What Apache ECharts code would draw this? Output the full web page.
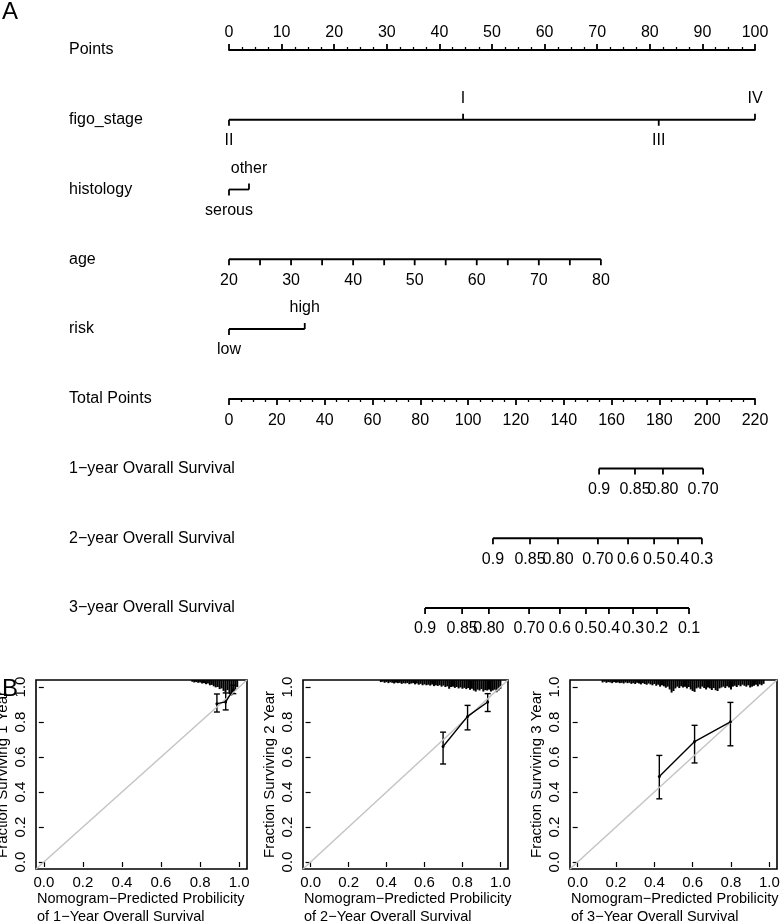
<!DOCTYPE html>
<html>
<head>
<meta charset="utf-8">
<script src="https://cdn.jsdelivr.net/npm/echarts@6/dist/echarts.min.js"></script>
<style>
html, body { margin: 0; padding: 0; background: #fff; }
#chart { width: 780px; height: 923px; }
</style>
</head>
<body>
<div id="chart"></div>
<script>
var FONT = '"Liberation Sans", Arial, Helvetica, sans-serif';

// ---- nomogram (A) ----
var rowNames = ['Points', 'figo_stage', 'histology', 'age', 'risk', 'Total Points',
  '1\u2212year Ovarall Survival', '2\u2212year Overall Survival', '3\u2212year Overall Survival'];

var figoLabels = ['II', 'I', 'III', 'IV'];
var figoPoints = [0, 44.5, 81.7, 100];
var figoSide = ['below', 'above', 'below', 'above'];

var histLabels = ['serous', 'other'];
var histPoints = [0, 3.8];
var histSide = ['below', 'above'];

var ageLabels = ['20', '', '30', '', '40', '', '50', '', '60', '', '70', '', '80'];
var agePoints = [0, 5.9, 11.8, 17.7, 23.6, 29.5, 35.3, 41.2, 47.1, 53.0, 58.9, 64.8, 70.7];

var riskLabels = ['low', 'high'];
var riskPoints = [0, 14.4];
var riskSide = ['below', 'above'];

// survival scales, positions in total points
var surv1Labels = ['0.9', '0.85', '0.80', '0.70'];
var surv1Total = [154.8, 169.8, 181.5, 198.3];
var surv2Labels = ['0.9', '0.85', '0.80', '0.70', '0.6', '0.5', '0.4', '0.3'];
var surv2Total = [110.4, 125.9, 137.6, 154.3, 166.9, 177.8, 187.8, 197.8];
var surv3Labels = ['0.9', '0.85', '0.80', '0.70', '0.6', '0.5', '0.4', '0.3', '0.2', '0.1'];
var surv3Total = [82.0, 97.5, 108.7, 125.5, 138.4, 149.3, 158.9, 169.0, 179.0, 192.4];

var maxPoints = 100, maxTotal = 220;

// ---- calibration (B) ----
var calTicks = [0, 0.2, 0.4, 0.6, 0.8, 1.0];
var cal1X = [0.886, 0.931, 0.970];
var cal1Y = [0.905, 0.915, 0.985];
var cal1Lo = [0.857, 0.869, 0.962];
var cal1Hi = [0.960, 0.966, 1.010];

var cal2X = [0.698, 0.827, 0.933];
var cal2Y = [0.660, 0.832, 0.914];
var cal2Lo = [0.560, 0.755, 0.860];
var cal2Hi = [0.742, 0.895, 0.962];

var cal3X = [0.426, 0.610, 0.797];
var cal3Y = [0.488, 0.688, 0.801];
var cal3Lo = [0.361, 0.566, 0.664];
var cal3Hi = [0.609, 0.781, 0.912];

// rug of predicted values (bin start, bin width 0.01, mark length)
var rugStep = 0.01;
var rug1Start = 0.76;
var rug1Len = [0.010, 0.014, 0.012, 0.016, 0.014, 0.020, 0.018, 0.024, 0.020, 0.030, 0.028, 0.036,
  0.042, 0.040, 0.052, 0.048, 0.062, 0.072, 0.058, 0.080, 0.088, 0.075, 0.060, 0.040];
var rug2Start = 0.37;
var rug2Len = [0.012, 0.010, 0.016, 0.012, 0.018, 0.013, 0.016, 0.020, 0.015, 0.018, 0.016, 0.022,
  0.018, 0.020, 0.017, 0.024, 0.020, 0.018, 0.025, 0.020, 0.027, 0.022, 0.030, 0.025, 0.030, 0.027,
  0.032, 0.026, 0.035, 0.030, 0.034, 0.030, 0.038, 0.032, 0.040, 0.036, 0.050, 0.040, 0.038, 0.045,
  0.040, 0.048, 0.042, 0.050, 0.045, 0.052, 0.046, 0.056, 0.050, 0.060, 0.066, 0.055, 0.060, 0.052,
  0.066, 0.058, 0.060, 0.055, 0.066, 0.060, 0.055, 0.070, 0.060, 0.050];
var rug3Start = 0.13;
var rug3Len = [0.014, 0.010, 0.016, 0.012, 0.014, 0.018, 0.012, 0.016, 0.014, 0.018, 0.016, 0.020,
  0.014, 0.018, 0.016, 0.022, 0.018, 0.023, 0.016, 0.020, 0.025, 0.018, 0.023, 0.027, 0.020, 0.025,
  0.030, 0.023, 0.033, 0.027, 0.038, 0.030, 0.036, 0.044, 0.038, 0.054, 0.072, 0.063, 0.048, 0.038,
  0.046, 0.036, 0.043, 0.038, 0.048, 0.040, 0.054, 0.063, 0.068, 0.048, 0.043, 0.050, 0.038, 0.046,
  0.054, 0.043, 0.048, 0.057, 0.046, 0.058, 0.063, 0.048, 0.043, 0.038, 0.046, 0.036, 0.043, 0.054,
  0.038, 0.033, 0.040, 0.030, 0.036, 0.027, 0.033, 0.038, 0.030, 0.043, 0.038, 0.033, 0.027, 0.036,
  0.025, 0.030, 0.022];

var calMin = -0.04, calMax = 1.04;
var LW = 1.8;

function nomoRow(row, xs, labels, sides) {
  var data = xs.map(function (x) { return [x, row]; });
  return [
    {
      type: 'line', xAxisIndex: 0, yAxisIndex: 0, silent: true, symbol: 'none',
      data: [[Math.min.apply(null, xs), row], [Math.max.apply(null, xs), row]],
      lineStyle: { color: '#000', width: LW }
    },
    {
      type: 'custom', xAxisIndex: 0, yAxisIndex: 0, silent: true, data: data,
      renderItem: function (params, api) {
        var p = api.coord([api.value(0), api.value(1)]);
        var i = params.dataIndex;
        var dir = sides[i] === 'above' ? -1 : 1;
        return {
          type: 'group',
          children: [
            { type: 'line', shape: { x1: p[0], y1: p[1], x2: p[0], y2: p[1] + dir * 6 },
              style: { stroke: '#000', lineWidth: LW } },
            { type: 'text', x: p[0], y: p[1] + dir * 21,
              style: { text: labels[i], fill: '#000', fontSize: 16, fontFamily: FONT,
                align: 'center', verticalAlign: 'middle' } }
          ]
        };
      }
    }
  ];
}

function fill(n, v) { var a = []; for (var i = 0; i < n; i++) a.push(v); return a; }
function toPoints(arr) { return arr.map(function (t) { return t * maxPoints / maxTotal; }); }

function calSeries(k, xs, ys, lo, hi, rugStart, rugLen) {
  var rugData = rugLen.map(function (h, i) { return [+(rugStart + i * rugStep).toFixed(3), h]; });
  return [
    {
      type: 'line', xAxisIndex: k, yAxisIndex: k, silent: true, symbol: 'none',
      data: [[calMin, calMin], [calMax, calMax]],
      lineStyle: { color: '#c4c4c4', width: 1.5 }
    },
    {
      type: 'custom', xAxisIndex: k, yAxisIndex: k, silent: true, data: rugData,
      renderItem: function (params, api) {
        var x = api.value(0), h = api.value(1);
        var a = api.coord([x, calMax]), b = api.coord([x, calMax - h]);
        return { type: 'line', shape: { x1: a[0], y1: a[1], x2: b[0], y2: b[1] },
          style: { stroke: '#000', lineWidth: 2 } };
      }
    },
    {
      type: 'custom', xAxisIndex: k, yAxisIndex: k, silent: true,
      data: xs.map(function (x, i) { return [x, lo[i], hi[i]]; }),
      renderItem: function (params, api) {
        var a = api.coord([api.value(0), api.value(1)]);
        var b = api.coord([api.value(0), api.value(2)]);
        var s = { stroke: '#000', lineWidth: 1.4 };
        return {
          type: 'group',
          children: [
            { type: 'line', shape: { x1: a[0], y1: a[1], x2: b[0], y2: b[1] }, style: s },
            { type: 'line', shape: { x1: a[0] - 3, y1: a[1], x2: a[0] + 3, y2: a[1] }, style: s },
            { type: 'line', shape: { x1: b[0] - 3, y1: b[1], x2: b[0] + 3, y2: b[1] }, style: s }
          ]
        };
      }
    },
    {
      type: 'line', xAxisIndex: k, yAxisIndex: k, silent: true,
      data: xs.map(function (x, i) { return [x, ys[i]]; }),
      symbol: 'circle', symbolSize: 3,
      itemStyle: { color: '#000' },
      lineStyle: { color: '#000', width: 1.4 }
    }
  ];
}

function calX(g) {
  return {
    gridIndex: g, type: 'value', min: calMin, max: calMax,
    axisLine: { show: false },
    axisTick: { show: true, length: 5, customValues: calTicks, lineStyle: { color: '#000', width: 1.2 } },
    axisLabel: { customValues: calTicks, fontSize: 15, color: '#000', margin: 6,
      formatter: function (v) { return v.toFixed(1); } },
    splitLine: { show: false }
  };
}
function calY(g, name) {
  return {
    gridIndex: g, type: 'value', min: calMin, max: calMax,
    axisLine: { show: false },
    axisTick: { show: true, length: 5, customValues: calTicks, lineStyle: { color: '#000', width: 1.2 } },
    axisLabel: { customValues: calTicks, fontSize: 15, color: '#000', margin: 8, rotate: 90,
      formatter: function (v) { return v.toFixed(1); } },
    splitLine: { show: false },
    name: name, nameLocation: 'middle', nameGap: 26,
    nameTextStyle: { fontSize: 15, color: '#000' }
  };
}

var calBox = { show: true, borderColor: '#000', borderWidth: 1.6, backgroundColor: '#fff',
  containLabel: false, outerBoundsMode: 'none' };

var series = []
  .concat(nomoRow(1, figoPoints, figoLabels, figoSide))
  .concat(nomoRow(2, histPoints, histLabels, histSide))
  .concat(nomoRow(3, agePoints, ageLabels, fill(agePoints.length, 'below')))
  .concat(nomoRow(4, riskPoints, riskLabels, riskSide))
  .concat(nomoRow(6, toPoints(surv1Total), surv1Labels, fill(surv1Total.length, 'below')))
  .concat(nomoRow(7, toPoints(surv2Total), surv2Labels, fill(surv2Total.length, 'below')))
  .concat(nomoRow(8, toPoints(surv3Total), surv3Labels, fill(surv3Total.length, 'below')))
  .concat(calSeries(2, cal1X, cal1Y, cal1Lo, cal1Hi, rug1Start, rug1Len))
  .concat(calSeries(3, cal2X, cal2Y, cal2Lo, cal2Hi, rug2Start, rug2Len))
  .concat(calSeries(4, cal3X, cal3Y, cal3Lo, cal3Hi, rug3Start, rug3Len));

function xTitle(left, n) {
  return { type: 'text', left: left, top: 890,
    style: { text: 'Nomogram\u2212Predicted Probilicity\nof ' + n + '\u2212Year Overall Survival',
      fill: '#000', fontSize: 14.5, fontFamily: FONT, lineHeight: 18 } };
}

var option = {
  animation: false,
  backgroundColor: '#fff',
  textStyle: { fontFamily: FONT, color: '#000' },
  graphic: [
    { type: 'text', left: 2, top: 0, style: { text: 'A', fill: '#000', fontSize: 24, fontFamily: FONT } },
    { type: 'text', left: 2, top: 677, style: { text: 'B', fill: '#000', fontSize: 24, fontFamily: FONT } },
    xTitle(37, 1), xTitle(304, 2), xTitle(571, 3)
  ],
  grid: [
    { left: 229, top: 50, width: 526, height: 558, containLabel: false, outerBoundsMode: 'none' },
    { left: 229, top: 301, width: 526, height: 98, containLabel: false, outerBoundsMode: 'none' },
    Object.assign({ left: 36, top: 680, width: 211, height: 189 }, calBox),
    Object.assign({ left: 303, top: 680, width: 205, height: 189 }, calBox),
    Object.assign({ left: 570, top: 680, width: 207, height: 189 }, calBox)
  ],
  xAxis: [
    {
      gridIndex: 0, type: 'value', position: 'top', min: 0, max: maxPoints, interval: 10,
      axisLine: { onZero: false, lineStyle: { color: '#000', width: LW } },
      axisTick: { length: 6, lineStyle: { color: '#000', width: LW } },
      minorTick: { show: true, splitNumber: 4, length: 3, lineStyle: { color: '#000', width: 1.3 } },
      axisLabel: { fontSize: 16, color: '#000', margin: 9 },
      splitLine: { show: false }
    },
    {
      gridIndex: 1, type: 'value', position: 'bottom', min: 0, max: maxTotal, interval: 20,
      axisLine: { onZero: false, lineStyle: { color: '#000', width: LW } },
      axisTick: { length: 6, lineStyle: { color: '#000', width: LW } },
      minorTick: { show: true, splitNumber: 4, length: 3, lineStyle: { color: '#000', width: 1.3 } },
      axisLabel: { fontSize: 16, color: '#000', margin: 14 },
      splitLine: { show: false }
    },
    calX(2), calX(3), calX(4)
  ],
  yAxis: [
    {
      gridIndex: 0, type: 'value', min: 0, max: 8, interval: 1, inverse: true,
      axisLine: { show: false }, axisTick: { show: false }, splitLine: { show: false },
      axisLabel: { align: 'left', margin: 160, fontSize: 16, color: '#000',
        formatter: function (v) { return rowNames[v] || ''; } }
    },
    { gridIndex: 1, type: 'value', show: false, min: 0, max: 1 },
    calY(2, 'Fraction Surviving 1 Year'),
    calY(3, 'Fraction Surviving 2 Year'),
    calY(4, 'Fraction Surviving 3 Year')
  ],
  series: series
};

var chart = echarts.init(document.getElementById('chart'), null, { renderer: 'canvas' });
chart.setOption(option);
</script>
</body>
</html>
